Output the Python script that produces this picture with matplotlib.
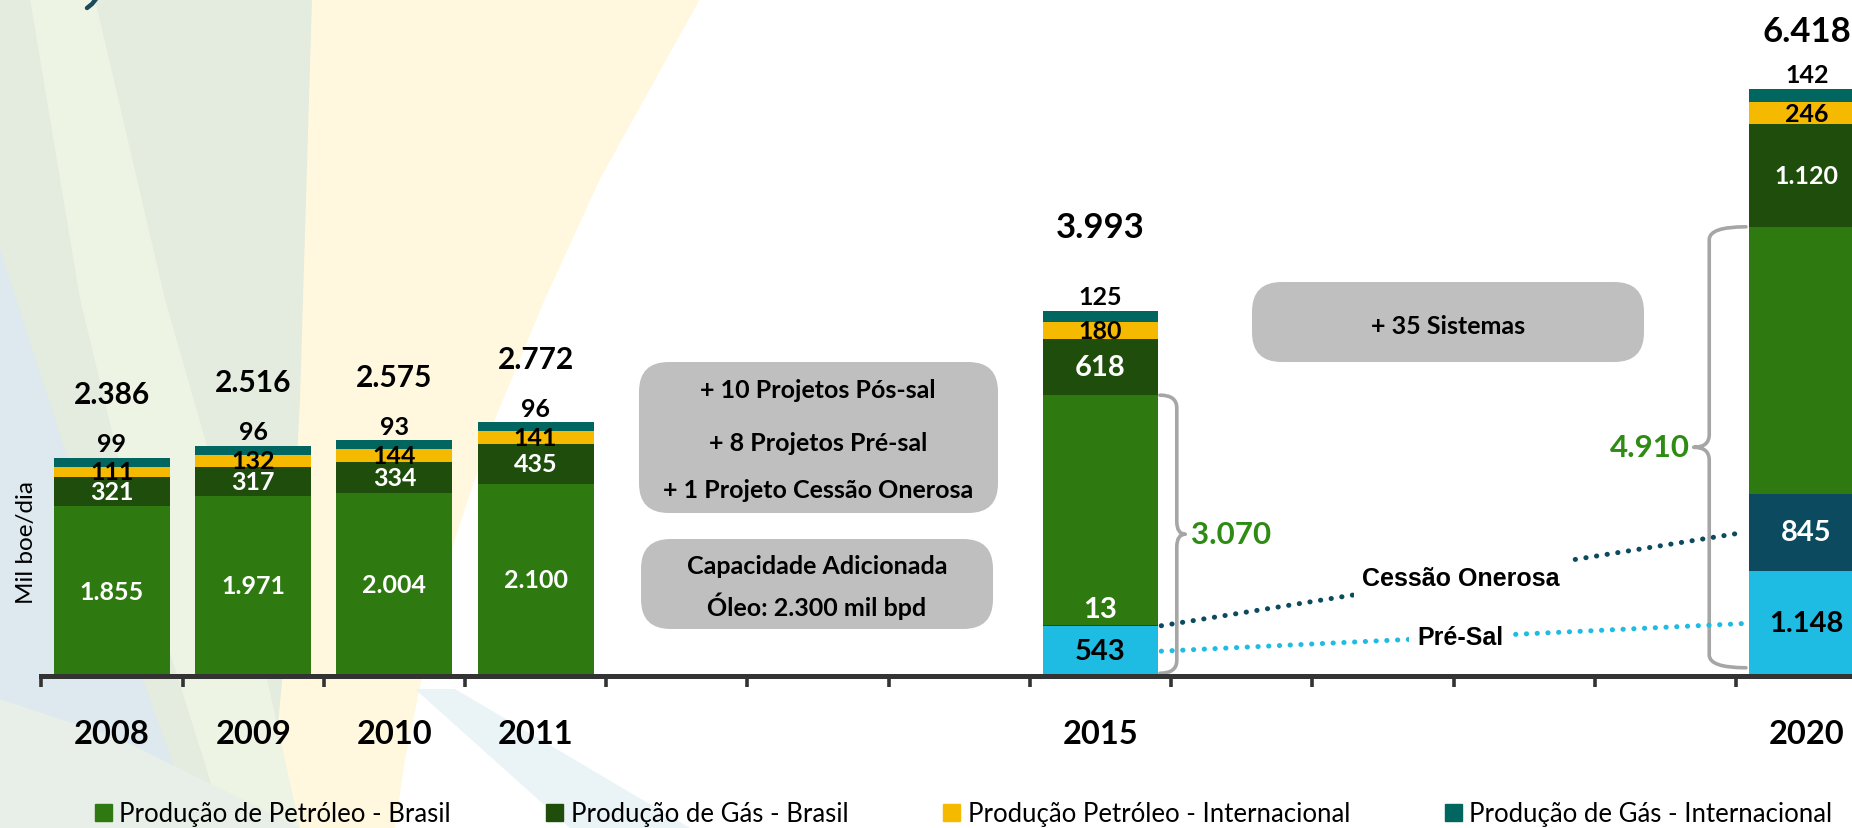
import matplotlib
matplotlib.use("Agg")
import matplotlib.pyplot as plt
from matplotlib.patches import FancyBboxPatch, Polygon, PathPatch, Rectangle
from matplotlib.path import Path
import numpy as np

# ---------------- data ----------------
axis_years = list(range(2008, 2021))
bar_years = [2008, 2009, 2010, 2011, 2015, 2020]
oleo_brasil_total = [1855, 1971, 2004, 2100, 3070, 4910]
pre_sal = [0, 0, 0, 0, 543, 1148]
cessao_onerosa = [0, 0, 0, 0, 13, 845]
gas_brasil = [321, 317, 334, 435, 618, 1120]
oleo_internacional = [111, 132, 144, 141, 180, 246]
gas_internacional = [99, 96, 93, 96, 125, 142]
totais = [2386, 2516, 2575, 2772, 3993, 6418]

legend_labels = ["Produção de Petróleo - Brasil", "Produção de Gás - Brasil",
                 "Produção Petróleo - Internacional", "Produção de Gás - Internacional"]
box1_lines = ["+ 10 Projetos Pós-sal", "+ 8 Projetos Pré-sal", "+ 1 Projeto Cessão Onerosa"]
box2_lines = ["Capacidade Adicionada", "Óleo: 2.300 mil bpd"]
box3_lines = ["+ 35 Sistemas"]
ylabel = "Mil boe/dia"

# ---------------- style ----------------
plt.rcParams['font.family'] = ['Lato', 'DejaVu Sans']
C_GREEN = '#2E7A11'
C_DKGREEN = '#1F4E0C'
C_YELLOW = '#F5BA00'
C_TEAL = '#00665F'
C_CYAN = '#1EBCE2'
C_DTEAL = '#0C4A5F'
C_BOX = '#BFBFBF'
C_BRACE = '#A6A6A6'
C_LABELGREEN = '#2E8B14'

W, H = 1852, 829
fig = plt.figure(figsize=(W / 100, H / 100), dpi=100)
fig.patch.set_facecolor('white')

# ---------------- decorative background ----------------
bg = fig.add_axes([0, 0, 1, 1], zorder=0)
bg.set_xlim(0, W)
bg.set_ylim(H, 0)
bg.axis('off')
shapes = [
    ('#FFF8DE', [(300, 0), (700, 0), (650, 90), (600, 180), (545, 300), (495, 420),
                 (455, 540), (428, 650), (405, 760), (395, 829), (250, 829)]),
    ('#E4EBDF', [(0, 0), (312, 0), (306, 200), (300, 400), (290, 600), (268, 829), (0, 829)]),
    ('#EEF4E3', [(30, 0), (95, 0), (165, 300), (245, 580), (300, 829), (225, 829), (150, 590), (80, 300)]),
    ('#DDE8EF', [(0, 250), (45, 390), (100, 560), (150, 700), (195, 829), (0, 829)]),
    ('#EAF3F6', [(415, 690), (455, 690), (690, 829), (570, 829)]),
    ('#E8EFE8', [(0, 700), (120, 740), (300, 829), (0, 829)]),
]
for col, pts in shapes:
    bg.add_patch(Polygon(pts, closed=True, facecolor=col, edgecolor='none'))
# cut-off title fragment (descender of a glyph above the frame)
bg.plot([96, 92, 87], [0, 5, 9], color='#1B4A5A', lw=3.2, solid_capstyle='round')

# ---------------- main axes ----------------
ax = fig.add_axes([41.3 / W, (H - 677) / H, 1836 / W, 677 / H], zorder=2)
ax.patch.set_alpha(0)
ax.set_xlim(-0.5, len(axis_years) - 0.5)
ax.set_ylim(0, 7400)
for s in ['top', 'right', 'left']:
    ax.spines[s].set_visible(False)
ax.spines['bottom'].set_color('#333333')
ax.spines['bottom'].set_linewidth(3.6)
ax.spines['bottom'].set_zorder(5)
ax.set_yticks([])
ax.set_xticks(np.arange(-0.5, len(axis_years) + 0.5, 1.0))
ax.set_xticklabels([])
ax.tick_params(axis='x', which='major', length=8, width=2.6, color='#333333', direction='out')
xpos = [axis_years.index(y) for y in bar_years]
ax.set_xticks(xpos, [str(y) for y in bar_years], minor=True)
ax.tick_params(axis='x', which='minor', length=0, pad=31, labelsize=23.5)
for t in ax.get_xticklabels(minor=True):
    t.set_fontweight('bold')

fmt = lambda v: f"{v:,}".replace(',', '.')

bw = 0.82
pos_sal = [t - p - c for t, p, c in zip(oleo_brasil_total, pre_sal, cessao_onerosa)]
series = [
    (pre_sal, C_CYAN),
    (cessao_onerosa, C_DTEAL),
    (pos_sal, C_GREEN),
    (gas_brasil, C_DKGREEN),
    (oleo_internacional, C_YELLOW),
    (gas_internacional, C_TEAL),
]
bottoms = np.zeros(len(bar_years))
seg = {}
for i, (vals, col) in enumerate(series):
    v = np.array(vals, dtype=float)
    ax.bar(xpos, v, bottom=bottoms, width=bw, color=col, linewidth=0, zorder=3)
    seg[i] = (bottoms.copy(), v)
    bottoms = bottoms + v

big = dict(fontsize=21, fontweight='bold')
small = dict(fontsize=18, fontweight='bold')
for j, x in enumerate(xpos):
    proj = pre_sal[j] > 0
    # Pré-sal
    if pre_sal[j] > 0:
        b0, v = seg[0][0][j], seg[0][1][j]
        ax.text(x, b0 + v / 2, fmt(pre_sal[j]), ha='center', va='center', color='black',
                zorder=6, **big)
    # Cessão onerosa
    if cessao_onerosa[j] > 0:
        b0, v = seg[1][0][j], seg[1][1][j]
        if v < 100:
            ax.annotate(fmt(cessao_onerosa[j]), (x, b0 + v), xytext=(0, 2),
                        textcoords='offset points', ha='center', va='bottom',
                        color='white', zorder=6, **big)
        else:
            ax.text(x, b0 + v / 2, fmt(cessao_onerosa[j]), ha='center', va='center',
                    color='white', zorder=6, **big)
    # Óleo Brasil (green)
    if not proj:
        b0, v = seg[2][0][j], seg[2][1][j]
        ax.text(x, b0 + v / 2, fmt(oleo_brasil_total[j]), ha='center', va='center',
                color='white', zorder=6, **small)
    # Gás Brasil
    b0, v = seg[3][0][j], seg[3][1][j]
    ax.text(x, b0 + v / 2, fmt(gas_brasil[j]), ha='center', va='center', color='white',
            zorder=6, **(big if bar_years[j] == 2015 else small))
    # Óleo internacional
    b0, v = seg[4][0][j], seg[4][1][j]
    ax.text(x, b0 + v / 2, fmt(oleo_internacional[j]), ha='center', va='center',
            color='black', zorder=6, **small)
    # Gás internacional (above)
    b0, v = seg[5][0][j], seg[5][1][j]
    ax.annotate(fmt(gas_internacional[j]), (x, b0 + v), xytext=(0, 10),
                textcoords='offset points', ha='center', va='center', color='black',
                zorder=6, **small)
    # Total
    pad = {2015: 60, 2020: 42}.get(bar_years[j], 46)
    ax.annotate(fmt(totais[j]), (x, b0 + v), xytext=(0, pad), textcoords='offset points',
                ha='center', va='center', color='black', zorder=6,
                fontsize=25 if proj else 21.5, fontweight='bold')


# ---------------- braces ----------------
def brace(x_end, x_spine, x_tip, y0, y1, dy):
    ym = (y0 + y1) / 2
    verts = [(x_end, y1), (x_spine, y1), (x_spine, y1 - dy),
             (x_spine, ym + dy), (x_spine, ym), (x_tip, ym),
             (x_spine, ym), (x_spine, ym - dy),
             (x_spine, y0 + dy), (x_spine, y0), (x_end, y0)]
    codes = [Path.MOVETO, Path.CURVE3, Path.CURVE3,
             Path.LINETO, Path.CURVE3, Path.CURVE3,
             Path.CURVE3, Path.CURVE3,
             Path.LINETO, Path.CURVE3, Path.CURVE3]
    ax.add_patch(PathPatch(Path(verts, codes), facecolor='none', edgecolor=C_BRACE,
                           lw=2.6, zorder=4, capstyle='round', joinstyle='round'))
    return ym

j15 = bar_years.index(2015)
j20 = bar_years.index(2020)
x15 = xpos[j15]
x20 = xpos[j20]
ym = brace(x15 + bw / 2 + 0.01, x15 + 0.54, x15 + 0.60, 30, oleo_brasil_total[j15], 140)
ax.text(x15 + 0.64, ym, fmt(oleo_brasil_total[j15]), ha='left', va='center',
        color=C_LABELGREEN, fontsize=22.5, fontweight='bold', zorder=6)
ym = brace(x20 - bw / 2 - 0.02, x20 - 0.69, x20 - 0.80, 90, oleo_brasil_total[j20], 140)
ax.text(x20 - 0.83, ym, fmt(oleo_brasil_total[j20]), ha='right', va='center',
        color=C_LABELGREEN, fontsize=22.5, fontweight='bold', zorder=6)

# ---------------- dotted connectors ----------------
def connector(j_a, j_b, series_idx, color, label, label_x):
    xa = xpos[j_a] + bw / 2 + 0.02
    xb = xpos[j_b] - bw / 2 - 0.03
    ya = seg[series_idx][0][j_a] + seg[series_idx][1][j_a] / 2
    yb = seg[series_idx][0][j_b] + seg[series_idx][1][j_b] / 2
    ax.plot([xa, xb], [ya, yb], color=color, lw=3.6, linestyle=(0, (0.05, 2.1)),
            dash_capstyle='round', zorder=4)
    yl = ya + (label_x - xa) / (xb - xa) * (yb - ya)
    ax.text(label_x, yl, label, ha='center', va='center', color='black', fontsize=18,
            fontweight='bold', family=['Liberation Sans', 'DejaVu Sans'], zorder=6,
            bbox=dict(facecolor='white', edgecolor='none', pad=6))

connector(j15, j20, 1, C_DTEAL, "Cessão Onerosa", 9.55)
connector(j15, j20, 0, C_CYAN, "Pré-Sal", 9.55)

# ---------------- gray boxes ----------------
def fx(px):
    return px / W

def fy(py):
    return 1 - py / H

def gbox(x0, y0, x1, y1, lines, ys, cx):
    fig.patches.append(FancyBboxPatch((fx(x0), fy(y1)), fx(x1) - fx(x0), fy(y0) - fy(y1),
                                      boxstyle="round,pad=0,rounding_size=0.016",
                                      transform=fig.transFigure, facecolor=C_BOX,
                                      edgecolor='none', zorder=1, mutation_aspect=W / H))
    for t, yy in zip(lines, ys):
        fig.text(fx(cx), fy(yy), t, ha='center', va='center', fontsize=18,
                 fontweight='bold', color='black', zorder=3)

gbox(639, 363, 998, 514, box1_lines, [391, 444, 490], 818)
gbox(641, 540, 993, 630, box2_lines, [566, 606], 817)
gbox(1252, 283, 1644, 363, box3_lines, [327], 1448)

# ---------------- y label ----------------
fig.text(fx(26), fy(543), ylabel, rotation=90, ha='center', va='center', fontsize=17.5,
         color='black')

# ---------------- legend ----------------
leg_handles = [Rectangle((0, 0), 1, 1, color=c) for c in [C_GREEN, C_DKGREEN, C_YELLOW, C_TEAL]]
fig.legend(leg_handles, legend_labels, ncol=4, loc='center left',
           bbox_to_anchor=(fx(95), fy(815)), frameon=False, fontsize=18.5,
           handlelength=0.65, handleheight=0.65, handletextpad=0.3, columnspacing=3.7,
           borderpad=0, borderaxespad=0)

fig.savefig('out.png', dpi=100)
